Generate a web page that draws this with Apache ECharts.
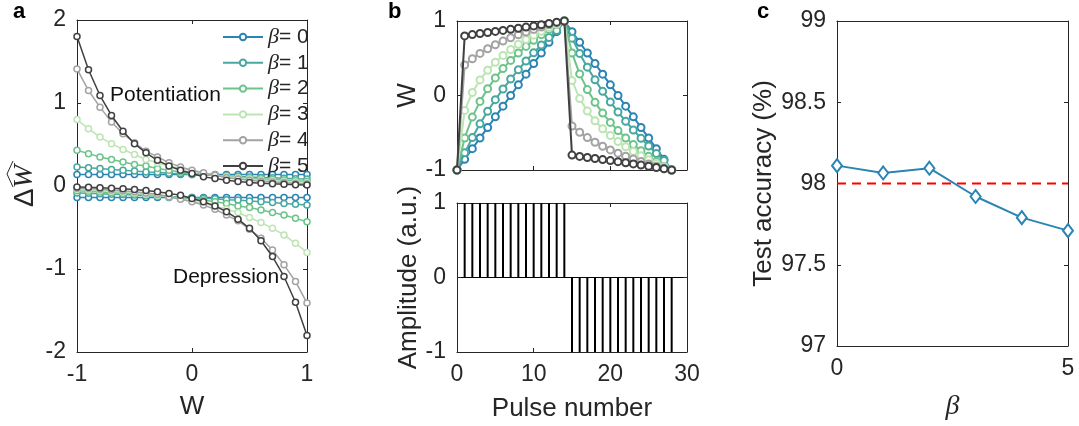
<!DOCTYPE html>
<html><head><meta charset="utf-8">
<script src="https://cdn.jsdelivr.net/npm/echarts@6/dist/echarts.min.js"></script>
<style>html,body{margin:0;padding:0;background:#fff}#c{width:1079px;height:426px}</style>
</head><body><div id="c"></div>
<script>
// ---------------- DATA ----------------
const betaNames = ['β= 0', 'β= 1', 'β= 2', 'β= 3', 'β= 4', 'β= 5'];
const wGrid = [-1, -0.9, -0.8, -0.7, -0.6, -0.5, -0.4, -0.3, -0.2, -0.1, 0, 0.1, 0.2, 0.3, 0.4, 0.5, 0.6, 0.7, 0.8, 0.9, 1];
// potentiation ΔW
const pot0 = [0.14, 0.14, 0.14, 0.14, 0.14, 0.14, 0.14, 0.14, 0.14, 0.14, 0.14, 0.14, 0.14, 0.14, 0.14, 0.14, 0.14, 0.14, 0.14, 0.14, 0.14];
const pot1 = [0.23, 0.22, 0.21, 0.20, 0.19, 0.18, 0.17, 0.165, 0.155, 0.148, 0.14, 0.133, 0.127, 0.12, 0.114, 0.108, 0.103, 0.098, 0.093, 0.088, 0.085];
const pot2 = [0.43, 0.39, 0.35, 0.32, 0.29, 0.26, 0.24, 0.21, 0.19, 0.17, 0.16, 0.14, 0.13, 0.12, 0.105, 0.096, 0.087, 0.078, 0.071, 0.064, 0.058];
const pot3 = [0.80, 0.69, 0.59, 0.51, 0.44, 0.38, 0.32, 0.28, 0.24, 0.21, 0.18, 0.15, 0.13, 0.11, 0.10, 0.084, 0.072, 0.062, 0.054, 0.046, 0.04];
const pot4 = [1.41, 1.15, 0.95, 0.77, 0.63, 0.52, 0.42, 0.35, 0.28, 0.23, 0.19, 0.16, 0.13, 0.10, 0.085, 0.07, 0.057, 0.047, 0.038, 0.031, 0.026];
const pot5 = [1.80, 1.40, 1.09, 0.85, 0.66, 0.51, 0.40, 0.31, 0.24, 0.19, 0.15, 0.11, 0.09, 0.07, 0.055, 0.043, 0.033, 0.026, 0.02, 0.016, 0.012];
// depression ΔW
const dep0 = [-0.14, -0.14, -0.14, -0.14, -0.14, -0.14, -0.14, -0.14, -0.14, -0.14, -0.14, -0.14, -0.14, -0.14, -0.14, -0.14, -0.14, -0.14, -0.14, -0.14, -0.14];
const dep1 = [-0.085, -0.088, -0.093, -0.098, -0.103, -0.108, -0.114, -0.12, -0.127, -0.133, -0.14, -0.148, -0.155, -0.165, -0.17, -0.18, -0.19, -0.20, -0.21, -0.22, -0.23];
const dep2 = [-0.058, -0.064, -0.071, -0.078, -0.087, -0.096, -0.105, -0.12, -0.13, -0.14, -0.16, -0.17, -0.19, -0.21, -0.24, -0.26, -0.29, -0.32, -0.35, -0.39, -0.43];
const dep3 = [-0.04, -0.046, -0.054, -0.062, -0.072, -0.084, -0.10, -0.11, -0.13, -0.15, -0.18, -0.21, -0.24, -0.28, -0.32, -0.38, -0.44, -0.51, -0.59, -0.69, -0.80];
const dep4 = [-0.026, -0.031, -0.038, -0.047, -0.057, -0.07, -0.085, -0.10, -0.13, -0.16, -0.19, -0.23, -0.28, -0.35, -0.42, -0.52, -0.63, -0.77, -0.95, -1.15, -1.41];
const dep5 = [-0.012, -0.016, -0.02, -0.026, -0.033, -0.043, -0.055, -0.07, -0.09, -0.11, -0.15, -0.19, -0.24, -0.31, -0.40, -0.51, -0.66, -0.85, -1.09, -1.40, -1.80];

// panel b: W vs pulse number
const pulses = [0, 1, 2, 3, 4, 5, 6, 7, 8, 9, 10, 11, 12, 13, 14, 15, 16, 17, 18, 19, 20, 21, 22, 23, 24, 25, 26, 27, 28];
const wb0 = [-1, -0.857, -0.714, -0.571, -0.429, -0.286, -0.143, 0, 0.143, 0.286, 0.429, 0.571, 0.714, 0.857, 1, 0.857, 0.714, 0.571, 0.429, 0.286, 0.143, 0, -0.143, -0.286, -0.429, -0.571, -0.714, -0.857, -1];
const wb1 = [-1, -0.77, -0.565, -0.38, -0.211, -0.056, 0.087, 0.221, 0.346, 0.463, 0.574, 0.679, 0.778, 0.872, 1, 0.77, 0.565, 0.38, 0.211, 0.056, -0.087, -0.221, -0.346, -0.463, -0.574, -0.679, -0.778, -0.872, -1];
const wb2 = [-1, -0.57, -0.29, -0.079, 0.092, 0.236, 0.361, 0.471, 0.57, 0.659, 0.741, 0.817, 0.887, 0.952, 1, 0.57, 0.29, 0.079, -0.092, -0.236, -0.361, -0.471, -0.57, -0.659, -0.741, -0.817, -0.887, -0.952, -1];
const wb3 = [-1, -0.2, 0.041, 0.209, 0.339, 0.446, 0.538, 0.617, 0.688, 0.752, 0.81, 0.863, 0.912, 0.957, 1, 0.2, -0.041, -0.209, -0.339, -0.446, -0.538, -0.617, -0.688, -0.752, -0.81, -0.863, -0.912, -0.957, -1];
const wb4 = [-1, 0.41, 0.494, 0.565, 0.627, 0.681, 0.73, 0.774, 0.815, 0.852, 0.887, 0.919, 0.95, 0.978, 1, -0.41, -0.494, -0.565, -0.627, -0.681, -0.73, -0.774, -0.815, -0.852, -0.887, -0.919, -0.95, -0.978, -1];
const wb5 = [-1, 0.80, 0.818, 0.832, 0.846, 0.86, 0.874, 0.888, 0.902, 0.918, 0.934, 0.95, 0.966, 0.984, 1, -0.80, -0.818, -0.832, -0.846, -0.86, -0.874, -0.888, -0.902, -0.918, -0.934, -0.95, -0.966, -0.984, -1];

// panel b bottom: pulse train
const stemPulses = [1, 2, 3, 4, 5, 6, 7, 8, 9, 10, 11, 12, 13, 14, 15, 16, 17, 18, 19, 20, 21, 22, 23, 24, 25, 26, 27, 28];
const stemAmp = [1, 1, 1, 1, 1, 1, 1, 1, 1, 1, 1, 1, 1, 1, -1, -1, -1, -1, -1, -1, -1, -1, -1, -1, -1, -1, -1, -1];

// panel c: test accuracy vs beta
const betaVals = [0, 1, 2, 3, 4, 5];
const accuracy = [98.11, 98.065, 98.094, 97.92, 97.79, 97.71];
const refAccuracy = 98;
const refRange = [0, 5];

// ---------------- STYLE / LAYOUT ----------------
const potAll = [pot0, pot1, pot2, pot3, pot4, pot5];
const depAll = [dep0, dep1, dep2, dep3, dep4, dep5];
const wbAll = [wb0, wb1, wb2, wb3, wb4, wb5];
const colors = ['#2a84b4', '#48a89f', '#6cc48a', '#bde5b4', '#a3a3a3', '#404040'];
const FONT = '"Liberation Sans", Arial, Helvetica, sans-serif';
const SERIF = '"Liberation Serif", "DejaVu Serif", serif';
const AX = '#262626';

const grids = [
  {left: 77, top: 20, width: 230, height: 332},
  {left: 457, top: 21, width: 230, height: 149},
  {left: 457, top: 203, width: 230, height: 149},
  {left: 837, top: 21, width: 231, height: 331}
];

function baseAxis(extra) {
  return Object.assign({
    type: 'value',
    axisLine: {show: true, onZero: false, lineStyle: {color: AX, width: 1}},
    axisTick: {show: true, inside: true, length: 4, lineStyle: {color: AX, width: 1}},
    axisLabel: {show: true, color: AX, fontSize: 23, fontFamily: FONT, margin: 11},
    splitLine: {show: false},
    nameTextStyle: {color: AX, fontSize: 26, fontFamily: FONT}
  }, extra);
}
function mirror(a, pos) {
  return Object.assign({}, a, {position: pos, name: '', axisLabel: {show: false}, splitLine: {show: false}});
}

const xPrimary = [
  baseAxis({gridIndex: 0, min: -1, max: 1, interval: 1, position: 'bottom', name: 'W', nameLocation: 'middle', nameGap: 42}),
  baseAxis({gridIndex: 1, min: 0, max: 30, interval: 10, position: 'bottom', axisLabel: {show: false}}),
  baseAxis({gridIndex: 2, min: 0, max: 30, interval: 10, position: 'bottom', name: 'Pulse number', nameLocation: 'middle', nameGap: 44}),
  baseAxis({gridIndex: 3, min: 0, max: 5, interval: 5, position: 'bottom', name: 'β', nameLocation: 'middle', nameGap: 47,
    nameTextStyle: {color: AX, fontSize: 28, fontFamily: SERIF, fontStyle: 'italic'}})
];
const yPrimary = [
  baseAxis({gridIndex: 0, min: -2, max: 2, interval: 1, position: 'left', name: '{d|Δ}{w|W}', nameLocation: 'middle', nameGap: 38,
    nameTextStyle: {color: AX, fontSize: 26, fontFamily: FONT, rich: {
      d: {fontSize: 28, fontFamily: FONT, color: AX},
      w: {fontSize: 28, fontFamily: SERIF, fontStyle: 'italic', color: AX}}}}),
  baseAxis({gridIndex: 1, min: -1, max: 1, interval: 1, position: 'left', name: 'W', nameLocation: 'middle', nameGap: 36}),
  baseAxis({gridIndex: 2, min: -1, max: 1, interval: 1, position: 'left', name: 'Amplitude (a.u.)', nameLocation: 'middle', nameGap: 32,
    splitLine: {show: true, lineStyle: {color: '#000', width: 1}}}),
  baseAxis({gridIndex: 3, min: 97, max: 99, interval: 0.5, position: 'left', name: 'Test accuracy (%)', nameLocation: 'middle', nameGap: 60})
];
const xAxes = xPrimary.concat(xPrimary.map(a => mirror(a, 'top')));
const yAxes = yPrimary.concat(yPrimary.map(a => mirror(a, 'right')));

const series = [];
// panel a
for (let i = 0; i < 6; i++) {
  const common = {
    type: 'line', name: betaNames[i], xAxisIndex: 0, yAxisIndex: 0,
    symbol: 'circle', symbolSize: 6, showAllSymbol: true,
    itemStyle: {color: '#fff', borderColor: colors[i], borderWidth: 1.5},
    lineStyle: {color: colors[i], width: 1.5},
    emphasis: {disabled: true}, z: 2 + i
  };
  series.push(Object.assign({}, common, {data: wGrid.map((w, k) => [w, potAll[i][k]])}));
  series.push(Object.assign({}, common, {data: wGrid.map((w, k) => [w, depAll[i][k]])}));
}
// panel b top
for (let i = 0; i < 6; i++) {
  series.push({
    type: 'line', name: 'b' + i, xAxisIndex: 1, yAxisIndex: 1,
    data: pulses.map((p, k) => [p, wbAll[i][k]]),
    symbol: 'circle', symbolSize: 7, showAllSymbol: true,
    itemStyle: {color: '#fff', borderColor: colors[i], borderWidth: 2},
    lineStyle: {color: colors[i], width: 2},
    emphasis: {disabled: true}, z: 2 + i
  });
}
// panel b bottom
series.push({
  type: 'bar', name: 'pulses', xAxisIndex: 2, yAxisIndex: 2,
  data: stemPulses.map((p, k) => [p, stemAmp[k]]),
  barWidth: 2, itemStyle: {color: '#000'}, emphasis: {disabled: true}
});
// panel c
series.push({
  type: 'line', name: 'ref', xAxisIndex: 3, yAxisIndex: 3,
  data: refRange.map(b => [b, refAccuracy]), symbol: 'none',
  lineStyle: {color: '#ff0000', width: 2, type: [9, 6]}, z: 2
});
series.push({
  type: 'line', name: 'acc', xAxisIndex: 3, yAxisIndex: 3,
  data: betaVals.map((b, k) => [b, accuracy[k]]),
  symbol: 'diamond', symbolSize: [10, 13], showAllSymbol: true,
  itemStyle: {color: '#fff', borderColor: '#2a84b4', borderWidth: 2},
  lineStyle: {color: '#2a84b4', width: 2}, z: 3
});

const option = {
  animation: false,
  backgroundColor: '#fff',
  grid: grids,
  xAxis: xAxes,
  yAxis: yAxes,
  legend: {
    data: betaNames, orient: 'vertical', left: 217, top: 21,
    itemWidth: 40, itemHeight: 8, itemGap: 3.8, padding: 5,
    formatter: n => '{b|β}' + n.slice(1),
    textStyle: {color: AX, fontSize: 21, fontFamily: FONT, lineHeight: 20,
      rich: {b: {fontSize: 22, fontFamily: SERIF, fontStyle: 'italic', color: AX, lineHeight: 20}}},
    selectedMode: false
  },
  graphic: [
    {type: 'text', left: 13, top: 1, style: {text: 'a', fill: '#000', font: 'bold 22px ' + FONT}},
    {type: 'text', left: 388, top: 1, style: {text: 'b', fill: '#000', font: 'bold 22px ' + FONT}},
    {type: 'text', left: 757, top: 1, style: {text: 'c', fill: '#000', font: 'bold 22px ' + FONT}},
    {type: 'text', left: 110, top: 85, style: {text: 'Potentiation', fill: '#111', font: '21px ' + FONT}},
    {type: 'text', left: 173, top: 267, style: {text: 'Depression', fill: '#111', font: '21px ' + FONT}},
    {type: 'polyline', shape: {points: [[13, 161], [7, 174], [13, 187]]}, style: {stroke: AX, lineWidth: 1, fill: null}}
  ],
  series: series
};
const chart = echarts.init(document.getElementById('c'), null, {renderer: 'canvas'});
chart.setOption(option);
</script></body></html>
